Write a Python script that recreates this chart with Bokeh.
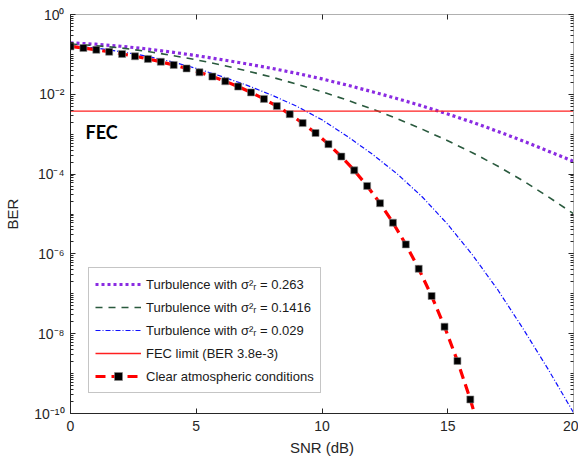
from bokeh.plotting import figure
from bokeh.models import (Range1d, FixedTicker, LinearAxis, LogAxis, Legend,
                          LegendItem, Label, CustomJSTickFormatter, CustomLabelingPolicy)
from bokeh.embed import file_html
from bokeh.resources import INLINE

# ---------------- data ----------------
snr_db = [0, 1, 2, 3, 4, 5, 6, 7, 8, 9, 10, 11, 12, 13, 14, 15, 16, 17, 18, 19, 20]

ber_turb_0263 = [0.195, 0.180, 0.160, 0.138, 0.115, 0.0933, 0.0741, 0.0582, 0.0447,
                 0.0335, 0.0243, 0.0170, 0.0116, 7.76e-3, 5.07e-3, 3.20e-3, 1.97e-3,
                 1.17e-3, 6.76e-4, 3.76e-4, 2.09e-4]

ber_turb_01416 = [0.182, 0.166, 0.145, 0.120, 0.0955, 0.0733, 0.0543, 0.0389, 0.0269,
                  0.0180, 0.0116, 7.16e-3, 4.27e-3, 2.43e-3, 1.32e-3, 6.84e-4, 3.39e-4,
                  1.57e-4, 6.76e-5, 2.69e-5, 1.02e-5]

ber_turb_0029 = [0.166, 0.145, 0.117, 0.0912, 0.0661, 0.0447, 0.0282, 0.0170, 9.55e-3,
                 5.01e-3, 2.29e-3, 8.91e-4, 3.16e-4, 1.00e-4, 2.63e-5, 5.50e-6, 9.12e-7,
                 1.23e-7, 1.32e-8, 1.26e-9, 1.05e-10]

snr_clear = [0.000, 0.513, 1.026, 1.538, 2.051, 2.564, 3.077, 3.590, 4.103, 4.615,
             5.128, 5.641, 6.154, 6.667, 7.179, 7.692, 8.205, 8.718, 9.231, 9.744,
             10.256, 10.769, 11.282, 11.795, 12.308, 12.821, 13.333, 13.846, 14.359,
             14.872, 15.385, 15.897, 16.410]
ber_clear = [0.1587, 0.1444, 0.1303, 0.1163, 0.1027, 0.0896, 0.0771, 0.0653, 0.0544,
             0.0445, 0.0356, 0.0278, 0.0212, 0.0156, 0.01115, 0.00767, 0.00506,
             0.00318, 0.00190, 0.00107, 5.63e-4, 2.75e-4, 1.24e-4, 5.05e-5, 1.86e-5,
             6.06e-6, 1.73e-6, 4.24e-7, 8.8e-8, 1.50e-8, 2.08e-9, 2.25e-10, 1.86e-11]

fec_x = [0, 20]
fec_ber = [3.8e-3, 3.8e-3]

x_ticks = [0, 5, 10, 15, 20]
y_tick_exps = [0, -2, -4, -6, -8, -10]
y_tick_labels = ["10\u2070", "10\u207b\u00b2", "10\u207b\u2074", "10\u207b\u2076",
                 "10\u207b\u2078", "10\u207b\u00b9\u2070"]

labels = ["Turbulence with \u03c3\u00b2\u1d63 = 0.263",
          "Turbulence with \u03c3\u00b2\u1d63 = 0.1416",
          "Turbulence with \u03c3\u00b2\u1d63 = 0.029",
          "FEC limit (BER 3.8e-3)",
          "Clear atmospheric conditions"]

# ---------------- figure ----------------
FONT = "Liberation Sans"
p = figure(width=578, height=458, y_axis_type="log",
           x_range=Range1d(0, 20), y_range=Range1d(1e-10, 1),
           output_backend="svg", toolbar_location=None,
           min_border_left=70, min_border_right=5, min_border_top=14, min_border_bottom=44)
p.grid.visible = False
p.outline_line_color = "#b0b0b0"
p.background_fill_color = "white"

major_y = [10.0 ** e for e in y_tick_exps]
minor_y = [m * 10.0 ** k for k in range(-10, 0) for m in range(1, 10)]
yticker = FixedTicker(ticks=major_y, minor_ticks=minor_y)
xticker = FixedTicker(ticks=x_ticks, minor_ticks=[])

yfmt = CustomJSTickFormatter(args=dict(exps=y_tick_exps, labs=y_tick_labels), code="""
const e = Math.round(Math.log10(tick));
const i = exps.indexOf(e);
return i >= 0 ? labs[i] : '';
""")

blank_fmt = CustomJSTickFormatter(code="return '';")

no_labels = CustomLabelingPolicy(code="""
const all = [...indices];
for (const i of all) { indices.unset(i); }
return indices;
""")

def style_axis(ax, dark=True):
    ax.axis_line_color = "#262626" if dark else "#b0b0b0"
    ax.major_tick_line_color = "#262626"
    ax.minor_tick_line_color = "#262626"
    ax.major_tick_in = 5
    ax.major_tick_out = 0
    ax.minor_tick_in = 3
    ax.minor_tick_out = 0
    ax.major_label_text_font = FONT
    ax.major_label_text_font_size = "14px"
    ax.major_label_text_color = "#262626"
    ax.axis_label_text_font = FONT
    ax.axis_label_text_font_size = "15px"
    ax.axis_label_text_font_style = "normal"
    ax.axis_label_text_color = "#262626"

xa = p.xaxis[0]
xa.ticker = xticker
xa.axis_label = "SNR (dB)"
xa.axis_label_standoff = 5
xa.major_label_standoff = 7
style_axis(xa)

ya = p.yaxis[0]
ya.ticker = yticker
ya.formatter = yfmt
ya.axis_label = "BER"
ya.axis_label_standoff = 10
ya.major_label_standoff = 6
style_axis(ya)

top = LinearAxis(ticker=FixedTicker(ticks=x_ticks, minor_ticks=[]))
style_axis(top, dark=False)
top.formatter = blank_fmt
top.major_label_policy = no_labels
top.major_label_standoff = 0
p.add_layout(top, "above")

right = LogAxis(ticker=FixedTicker(ticks=major_y, minor_ticks=minor_y))
style_axis(right, dark=False)
right.formatter = blank_fmt
right.major_label_policy = no_labels
right.major_label_standoff = 0
p.add_layout(right, "right")

# ---------------- glyphs ----------------
r1 = p.line(snr_db, ber_turb_0263, line_color="#8a2be2", line_width=3.2, line_dash="3 3")
r2 = p.line(snr_db, ber_turb_01416, line_color="#2a5a3e", line_width=1.6, line_dash="7 6")
r3 = p.line(snr_db, ber_turb_0029, line_color="#1010ff", line_width=1.2, line_dash="5 2 1 2")
r4 = p.line(fec_x, fec_ber, line_color="#ff2020", line_width=1.3)
r5 = p.line(snr_clear, ber_clear, line_color="#ff0000", line_width=3.2, line_dash="10 6")
r6 = p.scatter(snr_clear, ber_clear, marker="square", size=7, fill_color="black",
               line_color="#888888", line_width=0.6)

p.add_layout(Label(x=0.6, y=6.0e-4, text="FEC", text_font="Lato",
                   text_font_style="bold", text_font_size="18px", text_color="black"))

legend = Legend(items=[LegendItem(label=labels[0], renderers=[r1]),
                       LegendItem(label=labels[1], renderers=[r2]),
                       LegendItem(label=labels[2], renderers=[r3]),
                       LegendItem(label=labels[3], renderers=[r4]),
                       LegendItem(label=labels[4], renderers=[r5, r6])],
                location=(18, 20))
legend.label_text_font = FONT
legend.label_text_font_size = "13px"
legend.label_text_color = "#1a1a1a"
legend.glyph_width = 46
legend.glyph_height = 20
legend.label_height = 20
legend.spacing = 3
legend.padding = 6
legend.margin = 0
legend.border_line_color = "#8c8c8c"
legend.border_line_width = 1
legend.background_fill_alpha = 1.0
p.add_layout(legend, "center")

open("out.html", "w").write(file_html(p, INLINE))
